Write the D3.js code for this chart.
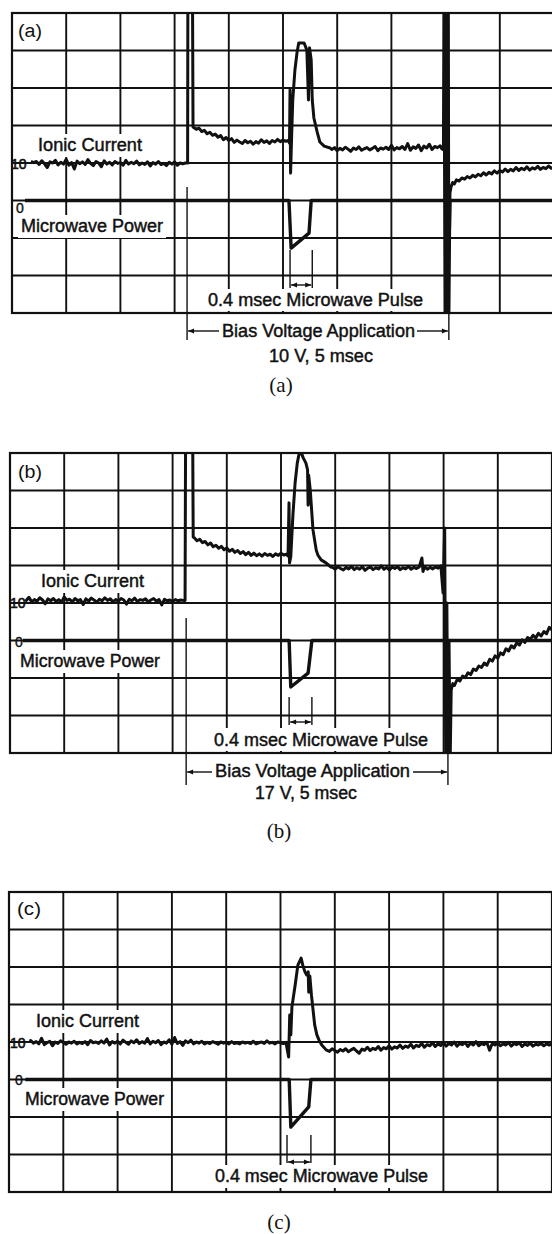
<!DOCTYPE html>
<html><head><meta charset="utf-8">
<script src="https://cdn.jsdelivr.net/npm/d3@7"></script>
<style>body{margin:0;background:#fff}svg{display:block}</style>
</head><body><svg id="c" width="552" height="1234"></svg>
<script>
// ---------- DATA (time in ms = screen divisions, amplitude in divisions; 0 = microwave ground) ----------
const panelTags = ["(a)", "(b)", "(c)"];
const captions = ["(a)", "(b)", "(c)"];
const biasSettings = ["10 V, 5 msec", "17 V, 5 msec", null];
const pulseLabel = "0.4 msec Microwave Pulse";
const biasLabel = "Bias Voltage Application";
const pulseTimes = [[5.13, 5.54], [5.15, 5.57], [5.12, 5.56]];
const biasTimes = [[3.23, 8.06], [3.25, 8.08], null];
const gridTimes = [0,1,2,3,4,5,6,7,8,9,10];
const gridLevels = [-3,-2,-1,0,1,2,3,4,5];

const ionicA = [
[0.35,1.04],[0.4,1.01],[0.45,1.04],[0.5,0.96],[0.55,1.06],[0.6,0.98],[0.65,0.88],[0.7,1.03],[0.75,1.0],[0.8,1.07],[0.85,0.95],[0.9,1.02],[0.95,0.97],[1,1.1],[1.05,0.94],[1.1,1.01],[1.15,0.84],[1.2,1.05],[1.25,0.98],[1.3,1.03],[1.35,0.96],[1.4,1.09],[1.45,0.99],[1.5,0.93],[1.55,1.04],[1.6,1],[1.65,0.9],[1.7,1.06],[1.75,0.97],[1.8,1.02],[1.85,0.95],[1.9,1.04],[1.95,0.99],[2,1.01],[2.05,0.94],[2.1,1.07],[2.15,0.97],[2.2,1.02],[2.25,0.98],[2.3,1.05],[2.35,0.95],[2.4,1],[2.45,0.96],[2.5,1.03],[2.55,0.92],[2.6,1.01],[2.65,0.97],[2.7,1.04],[2.75,0.96],[2.8,0.99],[2.85,0.93],[2.9,1.02],[2.95,0.97],[3,1.03],[3.05,0.94],[3.1,1],[3.15,0.98],[3.2,1],
[3.24,1],[3.245,5.6],[3.33,5.6],[3.34,1.96],
[3.4,1.9],[3.45,1.93],[3.5,1.84],[3.55,1.87],[3.6,1.78],[3.65,1.82],[3.7,1.74],[3.75,1.77],[3.8,1.69],[3.85,1.73],[3.9,1.62],[3.95,1.68],[4,1.6],[4.05,1.65],[4.1,1.55],[4.15,1.61],[4.2,1.56],[4.25,1.52],[4.3,1.6],[4.35,1.54],[4.4,1.58],[4.45,1.5],[4.5,1.57],[4.55,1.53],[4.6,1.62],[4.65,1.55],[4.7,1.59],[4.75,1.52],[4.8,1.6],[4.85,1.56],[4.9,1.63],[4.95,1.57],[5,1.61],[5.05,1.58],[5.1,1.6],
[5.12,1.53],[5.13,2.95],[5.14,0.73],[5.16,1.75],[5.18,2.68],[5.22,3.48],[5.26,3.96],[5.29,4.2],[5.39,4.2],[5.44,4.01],[5.47,2.68],[5.49,4.07],[5.52,3.75],[5.54,2.68],[5.57,2.2],[5.63,1.83],[5.68,1.56],[5.76,1.45],[5.87,1.4],
[5.9,1.36],[5.95,1.41],[6,1.33],[6.05,1.39],[6.1,1.35],[6.15,1.42],[6.2,1.37],[6.25,1.31],[6.3,1.4],[6.35,1.36],[6.4,1.43],[6.45,1.34],[6.5,1.38],[6.55,1.41],[6.6,1.35],[6.65,1.39],[6.7,1.44],[6.75,1.33],[6.8,1.4],[6.85,1.37],[6.9,1.42],[6.95,1.36],[7,1.47],[7.05,1.35],[7.1,1.41],[7.15,1.38],[7.2,1.44],[7.25,1.36],[7.3,1.52],[7.35,1.34],[7.4,1.43],[7.45,1.39],[7.5,1.48],[7.55,1.33],[7.6,1.45],[7.65,1.4],[7.7,1.5],[7.75,1.36],[7.8,1.44],[7.85,1.41],[7.9,1.46],[7.93,1.38],
[7.96,1.35],[7.97,5.6],[7.99,-3.3],[8.01,5.6],[8.03,-3.3],[8.05,5.6],[8.06,-3.3],[8.08,0.2],
[8.1,0.36],[8.13,0.48],[8.16,0.44],[8.2,0.55],[8.25,0.52],[8.3,0.6],[8.35,0.57],[8.4,0.64],[8.45,0.6],[8.5,0.67],[8.55,0.63],[8.6,0.7],[8.65,0.66],[8.7,0.74],[8.75,0.68],[8.8,0.75],[8.85,0.71],[8.9,0.79],[8.95,0.73],[9,0.8],[9.05,0.76],[9.1,0.84],[9.15,0.77],[9.2,0.83],[9.25,0.79],[9.3,0.88],[9.35,0.8],[9.4,0.86],[9.45,0.82],[9.5,0.9],[9.55,0.81],[9.6,0.87],[9.65,0.84],[9.7,0.91],[9.75,0.83],[9.8,0.88],[9.85,0.85],[9.9,0.92],[9.95,0.86],[10,0.89]
];
const microwaveA = [[0.24,0],[5.11,0],[5.15,-1.27],[5.48,-0.87],[5.52,0],[8.06,0],[8.07,-0.75],[8.08,0],[10,0]];

const ionicB = [
[0.28,1.09],[0.3,1.07],[0.35,1.15],[0.4,1.03],[0.45,1.09],[0.5,1.05],[0.55,1.14],[0.6,1.08],[0.65,0.98],[0.7,1.11],[0.75,1.06],[0.8,1.12],[0.85,1.04],[0.9,1.09],[0.95,1.02],[1,1.16],[1.05,1.07],[1.1,1.1],[1.15,1.03],[1.2,1.12],[1.25,1.06],[1.3,1.09],[1.35,0.96],[1.4,1.11],[1.45,1.05],[1.5,1.13],[1.55,1.08],[1.6,1.02],[1.65,1.1],[1.7,1.06],[1.75,1.14],[1.8,1.07],[1.85,1.11],[1.9,1.03],[1.95,1.09],[2,1.05],[2.05,1.12],[2.1,1.08],[2.15,0.97],[2.2,1.1],[2.25,1.06],[2.3,1.13],[2.35,1.04],[2.4,1.09],[2.45,1.07],[2.5,1.11],[2.55,1.03],[2.6,1.08],[2.65,1.12],[2.7,1.05],[2.75,1.09],[2.8,0.95],[2.85,1.1],[2.9,1.06],[2.95,1.08],[3,1.04],[3.05,1.09],[3.1,1.06],[3.15,1.08],[3.2,1.07],
[3.23,1.07],[3.24,5.6],[3.37,5.6],[3.38,2.76],
[3.4,2.74],[3.45,2.66],[3.5,2.7],[3.55,2.61],[3.6,2.64],[3.65,2.55],[3.7,2.6],[3.75,2.5],[3.8,2.54],[3.85,2.46],[3.9,2.51],[3.95,2.42],[4,2.47],[4.05,2.38],[4.1,2.43],[4.15,2.35],[4.2,2.4],[4.25,2.32],[4.3,2.37],[4.35,2.29],[4.4,2.35],[4.45,2.27],[4.5,2.33],[4.55,2.26],[4.6,2.31],[4.65,2.25],[4.7,2.32],[4.75,2.27],[4.8,2.3],[4.85,2.24],[4.9,2.31],[4.95,2.27],[5,2.33],[5.05,2.28],[5.1,2.3],
[5.13,2.25],[5.148,3.67],[5.157,2.07],[5.18,2.23],[5.22,3.35],[5.26,4.2],[5.3,4.73],[5.33,4.95],[5.37,5.03],[5.41,4.87],[5.46,4.73],[5.49,4.55],[5.5,3.61],[5.51,4.41],[5.54,4.01],[5.59,2.95],[5.65,2.41],[5.68,2.28],[5.74,2.15],[5.83,2.07],[5.92,1.96],
[5.95,1.95],[6,1.9],[6.05,1.97],[6.1,1.92],[6.15,1.88],[6.2,1.95],[6.25,1.91],[6.3,1.98],[6.35,1.89],[6.4,1.94],[6.45,1.9],[6.5,1.97],[6.55,1.87],[6.6,1.93],[6.65,1.96],[6.7,1.89],[6.75,1.94],[6.8,1.91],[6.85,1.99],[6.9,1.9],[6.95,1.95],[7,1.88],[7.05,1.96],[7.1,1.92],[7.15,1.97],[7.2,1.89],[7.25,1.94],[7.3,1.91],[7.35,1.98],[7.4,1.9],[7.45,1.95],[7.5,1.92],[7.55,1.96],[7.6,2.2],[7.62,1.84],[7.65,1.97],[7.7,1.9],[7.75,1.95],[7.8,1.91],[7.85,1.96],[7.9,1.93],
[7.95,1.99],[7.99,1.27],[8.02,3.0],[8.04,-3.3],[8.06,1.0],[8.08,-3.3],[8.1,0],[8.12,-3.3],[8.14,-1.32],
[8.17,-1.15],[8.2,-1.2],[8.25,-1.04],[8.3,-1.08],[8.35,-0.95],[8.4,-0.99],[8.45,-0.86],[8.5,-0.91],[8.55,-0.76],[8.6,-0.8],[8.65,-0.68],[8.7,-0.72],[8.75,-0.6],[8.8,-0.66],[8.85,-0.5],[8.9,-0.55],[8.95,-0.41],[9,-0.47],[9.05,-0.33],[9.1,-0.38],[9.15,-0.22],[9.2,-0.28],[9.25,-0.14],[9.3,-0.2],[9.35,-0.06],[9.4,-0.12],[9.45,0.02],[9.5,-0.05],[9.55,0.08],[9.6,0.03],[9.65,0.14],[9.7,0.07],[9.75,0.19],[9.8,0.12],[9.85,0.24],[9.9,0.18],[9.95,0.35],[10,0.28]
];
const microwaveB = [[0.24,0],[5.15,0],[5.18,-1.24],[5.5,-0.87],[5.57,0],[10,0]];

const ionicC = [
[0.38,1.02],[0.4,1.04],[0.45,0.97],[0.5,1.01],[0.55,0.95],[0.6,1.1],[0.65,0.93],[0.7,0.98],[0.75,1.02],[0.8,0.9],[0.85,1],[0.9,0.96],[0.95,1.03],[1,0.99],[1.05,0.94],[1.1,1],[1.15,0.97],[1.2,1.02],[1.25,0.95],[1.3,0.99],[1.35,0.96],[1.4,1.01],[1.45,0.93],[1.5,1.04],[1.55,0.98],[1.6,1],[1.65,0.96],[1.7,1.03],[1.75,0.97],[1.8,1.08],[1.85,0.92],[1.9,1.01],[1.95,0.97],[2,1.02],[2.05,0.95],[2.1,1.05],[2.15,0.99],[2.2,0.94],[2.25,1.03],[2.3,0.98],[2.35,1.06],[2.4,0.96],[2.45,1.01],[2.5,0.97],[2.55,1.09],[2.6,0.95],[2.65,1.02],[2.7,0.98],[2.75,1.04],[2.8,0.93],[2.85,1],[2.9,0.97],[2.95,1.06],[3,0.94],[3.05,1.12],[3.1,0.96],[3.15,1.01],[3.2,0.91],[3.25,1.03],[3.3,0.98],[3.35,1.05],[3.4,0.95],[3.45,1],[3.5,0.97],[3.55,1.02],[3.6,0.95],[3.65,0.99],[3.7,0.96],[3.75,1.01],[3.8,0.98],[3.85,0.94],[3.9,1],[3.95,0.97],[4,0.99],[4.05,0.95],[4.1,1.01],[4.15,0.96],[4.2,0.98],[4.25,0.95],[4.3,1],[4.35,0.97],[4.4,0.99],[4.45,0.96],[4.5,1.02],[4.55,0.95],[4.6,0.98],[4.65,1],[4.7,0.96],[4.75,1.03],[4.8,0.97],[4.85,0.99],[4.9,0.95],[4.95,1],[5,0.98],[5.05,0.96],[5.1,0.99],
[5.15,0.6],[5.17,1.72],[5.19,1.19],[5.21,1.93],[5.27,2.52],[5.32,3.05],[5.38,3.24],[5.41,3.05],[5.45,2.87],[5.48,2.79],[5.51,2.87],[5.52,2.33],[5.54,2.76],[5.57,2.25],[5.6,1.85],[5.63,1.45],[5.67,1.19],[5.71,1.05],[5.76,0.92],[5.84,0.79],
[5.9,0.75],[5.95,0.82],[6,0.77],[6.05,0.73],[6.1,0.8],[6.15,0.76],[6.2,0.82],[6.25,0.74],[6.3,0.79],[6.35,0.83],[6.4,0.76],[6.45,0.7],[6.5,0.81],[6.55,0.78],[6.6,0.86],[6.65,0.77],[6.7,0.83],[6.75,0.8],[6.8,0.88],[6.85,0.78],[6.9,0.85],[6.95,0.82],[7,0.9],[7.05,0.81],[7.1,0.87],[7.15,0.84],[7.2,0.92],[7.25,0.83],[7.3,0.89],[7.35,0.86],[7.4,0.94],[7.45,0.84],[7.5,0.91],[7.55,0.88],[7.6,0.96],[7.65,0.86],[7.7,0.93],[7.75,0.9],[7.8,0.98],[7.85,0.88],[7.9,0.95],[7.95,0.91],[8,0.99],[8.05,0.89],[8.1,0.96],[8.15,0.92],[8.2,1],[8.25,0.89],[8.3,0.96],[8.35,0.93],[8.4,0.99],[8.45,0.88],[8.5,0.97],[8.55,0.92],[8.6,1.01],[8.65,0.9],[8.7,0.96],[8.75,0.93],[8.8,0.99],[8.85,0.78],[8.9,0.96],[8.95,0.92],[9,0.98],[9.05,0.9],[9.1,0.95],[9.15,0.92],[9.2,0.99],[9.25,0.89],[9.3,0.96],[9.35,0.93],[9.4,0.98],[9.45,0.88],[9.5,0.95],[9.55,0.91],[9.6,0.97],[9.65,0.89],[9.7,0.94],[9.75,0.92],[9.8,0.96],[9.85,0.9],[9.9,0.95],[9.95,0.92],[10,0.94]
];
const microwaveC = [[0.3,0],[5.16,0],[5.19,-1.27],[5.52,-0.73],[5.56,0],[10,0]];

// ---------- LAYOUT ----------
const layout = [
  {top:13, left:12, w:542, tag:[18,37], ion:[38,151,104], mw:[21,232,142], ch1:[11,169], ch0:[16,213],
   pLbl:[208,306,215], pBg:[203,289,226,22], pMark:[250,288,285], bMark:[187,340], bArrowY:331, bLbl:[222,337,193], bGap:[219,417], bSub:[269,362,104], cap:[281,392]},
  {top:453, left:10, w:542, tag:[18,478], ion:[41,587,103], mw:[20,667,140], ch1:[10,608], ch0:[15,647],
   pLbl:[214,746,214], pBg:[209,728,226,23], pMark:[697,725,722], bMark:[618,785], bArrowY:772, bLbl:[215,777,195], bGap:[212,413], bSub:[255,799,102], cap:[279,838]},
  {top:892, left:9, w:543, tag:[17,915], ion:[36,1027,103], mw:[25,1105,139], ch1:[10,1048], ch0:[15,1085],
   pLbl:[215,1182,213], pBg:[210,1165,224,23], pMark:[1135,1163,1162], cap:[279,1229]}
];
const ionicSeries = [ionicA, ionicB, ionicC];
const microSeries = [microwaveA, microwaveB, microwaveC];

const svg = d3.select("#c");
const ink = "#111";
const sans = "'Liberation Sans', Arial, sans-serif";
const defs = svg.append("defs");
defs.append("marker").attr("id", "arr").attr("viewBox", "0 0 10 10").attr("refX", 10).attr("refY", 5)
  .attr("markerWidth", 7).attr("markerHeight", 6).attr("orient", "auto-start-reverse").attr("markerUnits", "userSpaceOnUse")
  .append("path").attr("d", "M0,1 L10,5 L0,9 Z").attr("fill", ink);

layout.forEach((L, i) => {
  const H = 300;
  const x = d3.scaleLinear().domain([0, 10]).range([L.left, L.left + L.w]);
  const y = d3.scaleLinear().domain([-3, 5]).range([L.top + H, L.top]);
  const g = svg.append("g");
  defs.append("clipPath").attr("id", "clip" + i).append("rect")
    .attr("x", L.left).attr("y", L.top).attr("width", L.w).attr("height", H);

  // grid
  g.selectAll(".gx").data(gridTimes).enter().append("line")
    .attr("x1", d => x(d)).attr("x2", d => x(d)).attr("y1", L.top).attr("y2", L.top + H)
    .attr("stroke", ink).attr("stroke-width", 1.9);
  g.selectAll(".gy").data(gridLevels).enter().append("line")
    .attr("x1", L.left).attr("x2", L.left + L.w).attr("y1", d => y(d)).attr("y2", d => y(d))
    .attr("stroke", ink).attr("stroke-width", 1.9);
  g.append("rect").attr("x", L.left).attr("y", L.top).attr("width", L.w).attr("height", H)
    .attr("fill", "none").attr("stroke", ink).attr("stroke-width", 2.2);

  // white label backgrounds
  const bg = (bx, by, bw, bh) => g.append("rect").attr("x", bx).attr("y", by).attr("width", bw).attr("height", bh).attr("fill", "#fff");
  bg(L.ion[0] - 3, L.ion[1] - 17, L.ion[2] + 6, 23);
  bg(L.mw[0] - 3, L.mw[1] - 17, L.mw[2] + 6, 23);
  bg(L.pBg[0], L.pBg[1], L.pBg[2], L.pBg[3]);

  // traces
  const line = d3.line().x(d => x(d[0])).y(d => y(d[1]));
  const tg = g.append("g").attr("clip-path", `url(#clip${i})`);
  tg.append("path").datum(microSeries[i]).attr("d", line).attr("fill", "none")
    .attr("stroke", ink).attr("stroke-width", 3.4).attr("stroke-linejoin", "round");
  tg.append("path").datum(ionicSeries[i]).attr("d", line).attr("fill", "none")
    .attr("stroke", ink).attr("stroke-width", 3).attr("stroke-linejoin", "round");

  // texts
  const txt = (s, tx, ty, size, len, fam, heavy) => {
    const t = g.append("text").attr("x", tx).attr("y", ty).attr("font-family", fam || sans)
      .attr("font-size", size).attr("fill", ink).text(s);
    if (heavy) t.attr("stroke", ink).attr("stroke-width", heavy);
    if (len) t.attr("textLength", len).attr("lengthAdjust", "spacingAndGlyphs");
    return t;
  };
  txt(panelTags[i], L.tag[0], L.tag[1], 18, 24);
  txt("Ionic Current", L.ion[0], L.ion[1], 18, L.ion[2], null, 0.45);
  txt("Microwave Power", L.mw[0], L.mw[1], 18, L.mw[2], null, 0.45);
  txt("10", L.ch1[0], L.ch1[1], 14, null, null, 0.6);
  txt("0", L.ch0[0], L.ch0[1], 14, null, null, 0.4);
  txt(pulseLabel, L.pLbl[0], L.pLbl[1], 18, L.pLbl[2], null, 0.45);

  // pulse markers
  const [p0, p1] = pulseTimes[i];
  [p0, p1].forEach(t => g.append("line").attr("x1", x(t)).attr("x2", x(t))
    .attr("y1", L.pMark[0]).attr("y2", L.pMark[1]).attr("stroke", ink).attr("stroke-width", 1.4));
  g.append("line").attr("x1", x(p0) + 1).attr("x2", x(p1) - 1).attr("y1", L.pMark[2]).attr("y2", L.pMark[2])
    .attr("stroke", ink).attr("stroke-width", 1.4).attr("marker-start", "url(#arr)").attr("marker-end", "url(#arr)");

  // bias markers
  if (biasTimes[i]) {
    const [b0, b1] = biasTimes[i];
    g.append("line").attr("x1", x(b0)).attr("x2", x(b0)).attr("y1", L.bMark[0]).attr("y2", L.bMark[1])
      .attr("stroke", ink).attr("stroke-width", 1.4);
    g.append("line").attr("x1", x(b1)).attr("x2", x(b1)).attr("y1", L.top + H).attr("y2", L.bMark[1])
      .attr("stroke", ink).attr("stroke-width", 1.4);
    g.append("line").attr("x1", L.bGap[0]).attr("x2", x(b0) + 1).attr("y1", L.bArrowY).attr("y2", L.bArrowY)
      .attr("stroke", ink).attr("stroke-width", 1.4).attr("marker-end", "url(#arr)");
    g.append("line").attr("x1", L.bGap[1]).attr("x2", x(b1) - 1).attr("y1", L.bArrowY).attr("y2", L.bArrowY)
      .attr("stroke", ink).attr("stroke-width", 1.4).attr("marker-end", "url(#arr)");
    txt(biasLabel, L.bLbl[0], L.bLbl[1], 18, L.bLbl[2], null, 0.45);
    txt(biasSettings[i], L.bSub[0], L.bSub[1], 18, L.bSub[2], null, 0.45);
  }
  txt(captions[i], L.cap[0], L.cap[1], 21, null, "'Liberation Serif', 'Times New Roman', serif")
    .attr("text-anchor", "middle");
});
</script>
</body></html>
